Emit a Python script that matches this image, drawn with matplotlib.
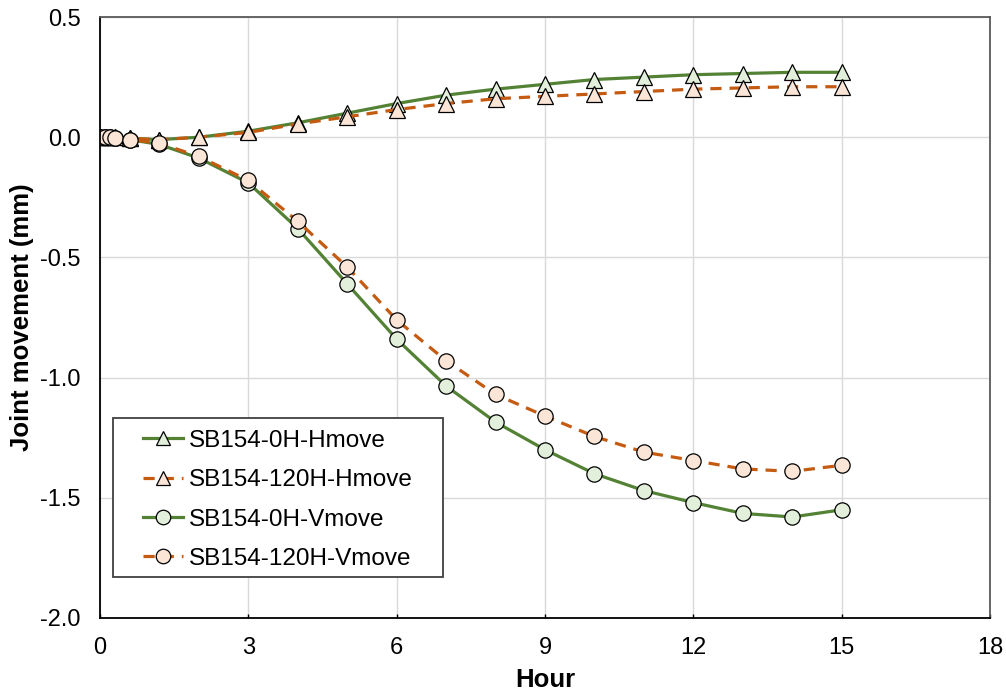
import matplotlib
matplotlib.use("Agg")
from matplotlib import pyplot as plt
from matplotlib.patches import Rectangle

plt.rcParams['font.family'] = ['Liberation Sans', 'DejaVu Sans']

# hours of readings
hours = [0, 0.1, 0.2, 0.3, 0.6, 1.2, 2, 3, 4, 5, 6, 7, 8, 9, 10, 11, 12, 13, 14, 15]

h_0h = [0, 0, 0, 0, -0.005, -0.01, 0.0, 0.025, 0.06, 0.10, 0.14, 0.175, 0.20, 0.22,
        0.24, 0.25, 0.26, 0.265, 0.27, 0.27]
h_120h = [0, 0, 0, 0, -0.005, -0.01, 0.0, 0.02, 0.055, 0.085, 0.115, 0.14, 0.16, 0.17,
          0.18, 0.19, 0.20, 0.205, 0.21, 0.21]
v_0h = [0, 0, 0, -0.005, -0.01, -0.03, -0.087, -0.19, -0.38, -0.61, -0.84, -1.035, -1.185,
        -1.30, -1.40, -1.47, -1.52, -1.565, -1.58, -1.55]
v_120h = [0, 0, 0, -0.005, -0.01, -0.025, -0.08, -0.18, -0.35, -0.54, -0.76, -0.93, -1.07,
          -1.16, -1.245, -1.31, -1.345, -1.38, -1.39, -1.365]

labels = ['SB154-0H-Hmove', 'SB154-120H-Hmove', 'SB154-0H-Vmove', 'SB154-120H-Vmove']

green = '#548235'
orange = '#C55A11'
green_fill = '#E2EFDA'
orange_fill = '#FBE5D6'
dash = (0, (3.5, 2.5))

fig = plt.figure(figsize=(10.06, 6.92), dpi=100)
ax = fig.add_axes([0.0994, 0.107, 0.8847, 0.8684])

ax.plot(hours, h_0h, color=green, lw=2.3, marker='^', ms=11, mfc=green_fill, mec='black',
        mew=0.9, label=labels[0])
ax.plot(hours, h_120h, color=orange, lw=2.3, ls=dash, marker='^', ms=11,
        mfc=orange_fill, mec='black', mew=0.9, label=labels[1])
ax.plot(hours, v_0h, color=green, lw=2.3, marker='o', ms=11, mfc=green_fill, mec='black',
        mew=0.9, label=labels[2])
ax.plot(hours, v_120h, color=orange, lw=2.3, ls=dash, marker='o', ms=11,
        mfc=orange_fill, mec='black', mew=0.9, label=labels[3])

ax.set_xlim(0, 18)
ax.set_ylim(-2.0, 0.5)
ax.set_xticks(range(0, 19, 3))
ax.set_yticks([-2.0, -1.5, -1.0, -0.5, 0.0, 0.5])
ax.set_yticklabels(['-2.0', '-1.5', '-1.0', '-0.5', '0.0', '0.5'])
ax.grid(True, color='#D9D9D9', lw=1)
ax.set_axisbelow(True)
for s in ['top', 'right']:
    ax.spines[s].set_color('#595959')
    ax.spines[s].set_linewidth(1.3)
for s in ['left', 'bottom']:
    ax.spines[s].set_color('black')
    ax.spines[s].set_linewidth(1.3)
ax.tick_params(axis='x', direction='in', length=3, width=1, labelsize=17, pad=14)
ax.tick_params(axis='y', length=0, labelsize=17, pad=14)

ax.set_xlabel('Hour', fontsize=18.5, fontweight='bold', labelpad=6.5)
ax.set_ylabel('Joint movement (mm)', fontsize=18.5, fontweight='bold', labelpad=4)

# legend frame drawn as a box, entries laid inside it
ax.add_patch(Rectangle((0.0146, 0.0682), 0.3708, 0.2646, transform=ax.transAxes,
                       fill=True, facecolor='white', edgecolor='#404040', lw=1.3,
                       zorder=4))
leg = ax.legend(loc='upper left', bbox_to_anchor=(0.0483, 0.3128), borderaxespad=0,
                borderpad=0, fontsize=17.5, frameon=False, handlelength=1.65,
                handletextpad=0.25, labelspacing=0.71, markerscale=0.95)
leg.set_zorder(5)

fig.savefig('out.png', dpi=100)
